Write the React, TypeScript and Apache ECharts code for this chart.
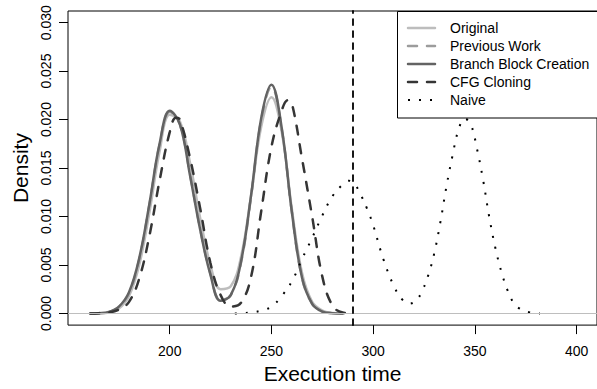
import React, { useEffect, useRef } from "react";
import * as echarts from "echarts";

// x tick values and y tick values
const xTicks: number[] = [200, 250, 300, 350, 400];
const yTicks: number[] = [0, 0.005, 0.01, 0.015, 0.02, 0.025, 0.03];

const seriesNames: string[] = [
  "Original",
  "Previous Work",
  "Branch Block Creation",
  "CFG Cloning",
  "Naive",
];

// [execution time, density]
const original: [number, number][] = [
  [161, 0], [165, 0.00002], [170, 0.0001], [175, 0.0005], [180, 0.0018],
  [185, 0.005], [190, 0.0104], [195, 0.0167], [200, 0.0205], [205, 0.0198],
  [210, 0.0155], [215, 0.0098], [220, 0.005], [225, 0.0025], [230, 0.0028],
  [235, 0.0058], [240, 0.0122], [245, 0.0193], [250, 0.0223], [255, 0.0188],
  [260, 0.0108], [265, 0.0042], [270, 0.0012], [275, 0.0003], [280, 0.00005],
  [285, 0],
];

const previousWork: [number, number][] = [
  [161, 0], [165, 0.00003], [170, 0.00014], [175, 0.0007], [180, 0.0021],
  [185, 0.0056], [190, 0.0112], [195, 0.0174], [200, 0.0208], [205, 0.0195],
  [210, 0.0143], [215, 0.0087], [220, 0.0041], [225, 0.0014], [230, 0.0019],
  [235, 0.0052], [240, 0.0121], [245, 0.02], [250, 0.0234], [255, 0.0191],
  [260, 0.0105], [265, 0.0037], [270, 0.001], [275, 0.0002], [280, 0.00003],
  [285, 0],
];

const branchBlock: [number, number][] = [
  [161, 0], [165, 0.00003], [170, 0.00015], [175, 0.0007], [180, 0.0022],
  [185, 0.0057], [190, 0.0113], [195, 0.0175], [200, 0.0209], [205, 0.0195],
  [210, 0.0142], [215, 0.0086], [220, 0.004], [225, 0.0013], [230, 0.0019],
  [235, 0.0053], [240, 0.0122], [245, 0.0202], [250, 0.0236], [255, 0.0192],
  [260, 0.0105], [265, 0.0037], [270, 0.001], [275, 0.0002], [280, 0.00003],
  [285, 0],
];

const cfgCloning: [number, number][] = [
  [161, 0], [165, 0.00002], [170, 0.0001], [175, 0.0004], [180, 0.0012],
  [185, 0.0036], [190, 0.008], [195, 0.0137], [200, 0.0187], [203, 0.0202],
  [205, 0.02], [210, 0.016], [215, 0.0108], [220, 0.0052], [225, 0.0019],
  [230, 0.0007], [235, 0.0011], [240, 0.0038], [245, 0.0106], [250, 0.0172],
  [255, 0.0209], [258, 0.022], [260, 0.0217], [265, 0.016], [270, 0.01],
  [275, 0.0038], [280, 0.0008], [285, 0.0001], [290, 0],
];

const naive: [number, number][] = [
  [232, 0], [235, 0.00003], [240, 0.0001], [245, 0.0003], [250, 0.0007],
  [255, 0.0018], [260, 0.0033], [265, 0.0056], [270, 0.0078], [275, 0.0101],
  [280, 0.0121], [285, 0.0133], [288, 0.0137], [291, 0.0133], [294, 0.0122],
  [297, 0.0108], [300, 0.0091], [305, 0.0056], [310, 0.0029], [314, 0.0015],
  [317.5, 0.001], [321, 0.0013], [324, 0.0023], [327, 0.0039], [330, 0.0062],
  [333, 0.0094], [336, 0.0131], [339, 0.0163], [342, 0.019], [345, 0.0201],
  [348, 0.0195], [351, 0.017], [354, 0.0138], [357, 0.01], [360, 0.0068],
  [363, 0.0043], [366, 0.0024], [369, 0.0011], [372, 0.0005], [377, 0.0001],
  [382, 0],
];

const cutoffLine = 290;

const FONT = "'Liberation Sans', Arial, Helvetica, sans-serif";

// line styles (colour, width, dash, cap) per series
const STYLES: { color: string; width: number; dash: any; cap: string }[] = [
  { color: "#bdbdbd", width: 2.5, dash: "solid", cap: "round" },
  { color: "#9c9c9c", width: 2.5, dash: [9, 10], cap: "round" },
  { color: "#636363", width: 2.5, dash: "solid", cap: "round" },
  { color: "#353535", width: 2.5, dash: [9, 10], cap: "round" },
  { color: "#000000", width: 2, dash: [2, 9], cap: "butt" },
];

export default function App() {
  const ref = useRef<HTMLDivElement>(null);

  useEffect(() => {
    if (!ref.current) return;
    const chart = echarts.init(ref.current, null, { renderer: "svg" });

    const dataSets = [original, previousWork, branchBlock, cfgCloning, naive];

    const series: any[] = dataSets.map((data, i) => {
      const st = STYLES[i];
      const s: any = {
        name: seriesNames[i],
        type: "line",
        data,
        smooth: 0.4,
        symbol: "none",
        showSymbol: false,
        itemStyle: { color: st.color },
        lineStyle: { color: st.color, width: st.width, type: st.dash, cap: st.cap },
        emphasis: { disabled: true },
      };
      if (i === 0) {
        s.markLine = {
          silent: true,
          symbol: ["none", "none"],
          label: { show: false },
          emphasis: { disabled: true },
          data: [{ yAxis: 0, lineStyle: { color: "#bebebe", width: 1, type: "solid" } }],
        };
      }
      if (i === 4) {
        s.markLine = {
          silent: true,
          symbol: ["none", "none"],
          label: { show: false },
          emphasis: { disabled: true },
          data: [
            {
              xAxis: cutoffLine,
              lineStyle: { color: "#000", width: 1.8, type: [6, 6], cap: "round" },
            },
          ],
        };
      }
      return s;
    });

    // legend drawn as graphic elements (box, line samples, labels)
    const legendLeft = 397;
    const legendTop = 11;
    const rowH = 18;
    const firstRow = 28;
    const legendChildren: any[] = [
      {
        type: "rect",
        shape: { x: legendLeft + 0.5, y: legendTop + 0.5, width: 210, height: 106.5 },
        style: { fill: "#fff", stroke: "#000", lineWidth: 1 },
        silent: true,
      },
    ];
    seriesNames.forEach((name, i) => {
      const st = STYLES[i];
      const y = firstRow + i * rowH;
      legendChildren.push({
        type: "line",
        shape: { x1: 408, y1: y, x2: 435, y2: y },
        style: {
          stroke: st.color,
          lineWidth: st.width,
          lineDash: Array.isArray(st.dash) ? st.dash : null,
          lineCap: st.cap,
        },
        silent: true,
      });
      legendChildren.push({
        type: "text",
        x: 450,
        y: y,
        style: {
          text: name,
          fill: "#000",
          fontSize: 14,
          fontFamily: FONT,
          verticalAlign: "middle",
          align: "left",
        },
        silent: true,
      });
    });

    const option: any = {
      animation: false,
      backgroundColor: "#ffffff",
      textStyle: { fontFamily: FONT },
      grid: {
        left: 68,
        top: 11,
        width: 537,
        height: 321,
        show: true,
        borderColor: "#000",
        borderWidth: 1,
        backgroundColor: "transparent",
      },
      xAxis: {
        type: "value",
        min: 150,
        max: 410,
        axisLine: { show: false, onZero: false },
        axisTick: {
          show: true,
          length: 9,
          lineStyle: { color: "#000", width: 1 },
          customValues: xTicks,
        },
        axisLabel: {
          customValues: xTicks,
          fontSize: 14,
          color: "#000",
          margin: 19,
          fontFamily: FONT,
        },
        splitLine: { show: false },
        name: "Execution time",
        nameLocation: "middle",
        nameGap: 35,
        nameTextStyle: { fontSize: 21, color: "#000", fontFamily: FONT },
      },
      yAxis: {
        type: "value",
        min: -0.0012,
        max: 0.0312,
        axisLine: { show: false, onZero: false },
        axisTick: {
          show: true,
          length: 9,
          lineStyle: { color: "#000", width: 1 },
          customValues: yTicks,
        },
        axisLabel: {
          customValues: yTicks,
          rotate: 90,
          fontSize: 14,
          color: "#000",
          margin: 15,
          fontFamily: FONT,
          formatter: (v: number) => v.toFixed(3),
        },
        splitLine: { show: false },
        name: "Density",
        nameLocation: "middle",
        nameRotate: 90,
        nameGap: 36,
        nameTextStyle: { fontSize: 21, color: "#000", fontFamily: FONT },
      },
      series,
      graphic: [{ type: "group", z: 100, children: legendChildren }],
    };

    chart.setOption(option);
    return () => chart.dispose();
  }, []);

  return (
    <div
      ref={ref}
      style={{ position: "fixed", left: 0, top: 0, width: 597, height: 389, background: "#fff" }}
    />
  );
}
